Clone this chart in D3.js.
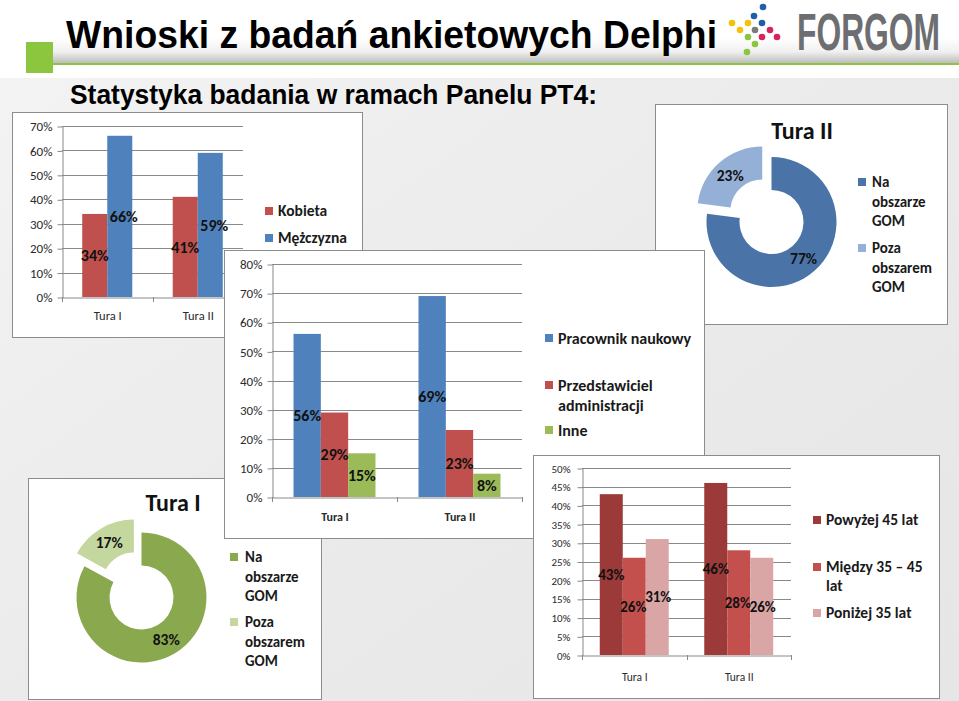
<!DOCTYPE html>
<html><head><meta charset="utf-8">
<script src="https://cdn.jsdelivr.net/npm/d3@7"></script>
<style>html,body{margin:0;padding:0;background:#fff;} svg{display:block}</style>
</head><body><svg id="c" width="959" height="701"></svg>
<script>
// ---------- DATA ----------
const categories = ["Tura I", "Tura II"];
const genderLegend = [["Kobieta"], ["Mężczyzna"]];
const genderValues = [[34, 41], [66, 59]];
const roleLegend = [["Pracownik naukowy"], ["Przedstawiciel", "administracji"], ["Inne"]];
const roleValues = [[56, 69], [29, 23], [15, 8]];
const ageLegend = [["Powyżej 45 lat"], ["Między 35 – 45", "lat"], ["Poniżej 35 lat"]];
const ageValues = [[43, 46], [26, 28], [31, 26]];
const regionLegend = [["Na", "obszarze", "GOM"], ["Poza", "obszarem", "GOM"]];
const regionTura1 = [83, 17];
const regionTura2 = [77, 23];
const genderTicks = [0, 10, 20, 30, 40, 50, 60, 70];
const roleTicks = [0, 10, 20, 30, 40, 50, 60, 70, 80];
const ageTicks = [0, 5, 10, 15, 20, 25, 30, 35, 40, 45, 50];
const titleText = "Wnioski z badań ankietowych Delphi";
const subtitleText = "Statystyka badania w ramach Panelu PT4:";
const logoText = "FORGOM";
const donutTitles = ["Tura I", "Tura II"];

// ---------- STYLE ----------
const F = "Carlito, Calibri, Lato, 'Open Sans', sans-serif";
const NARROW = "'Liberation Sans Narrow', 'Arial Narrow', 'Liberation Sans', Arial, sans-serif";
const AX = "#898989";
const svg = d3.select("#c");

const defs = svg.append("defs");
const bg = defs.append("linearGradient").attr("id", "bg").attr("x1", 0).attr("y1", 0).attr("x2", 1).attr("y2", 1);
bg.append("stop").attr("offset", "0").attr("stop-color", "#f4f4f4");
bg.append("stop").attr("offset", "0.5").attr("stop-color", "#ebebeb");
bg.append("stop").attr("offset", "1").attr("stop-color", "#e6e6e6");
const band = defs.append("linearGradient").attr("id", "band").attr("x1", 0).attr("y1", 0).attr("x2", 0).attr("y2", 1);
band.append("stop").attr("offset", "0").attr("stop-color", "#ffffff");
band.append("stop").attr("offset", "0.55").attr("stop-color", "#f0f0f0");
band.append("stop").attr("offset", "1").attr("stop-color", "#bdbdbd");

svg.append("rect").attr("width", 959).attr("height", 701).attr("fill", "url(#bg)");
svg.append("rect").attr("width", 959).attr("height", 78).attr("fill", "#ffffff");

// header
svg.append("rect").attr("x", 53).attr("y", 38).attr("width", 906).attr("height", 25).attr("fill", "url(#band)");
svg.append("rect").attr("x", 53).attr("y", 63).attr("width", 906).attr("height", 2).attr("fill", "#8cc63f");
svg.append("rect").attr("x", 26).attr("y", 42).attr("width", 27).attr("height", 31).attr("fill", "#8cc63f");
svg.append("text").attr("x", 66).attr("y", 48).attr("font-family", NARROW).attr("font-weight", "bold")
  .attr("font-size", 38).attr("textLength", 651).attr("lengthAdjust", "spacingAndGlyphs").attr("fill", "#000").text(titleText);
svg.append("text").attr("x", 70).attr("y", 104).attr("font-family", NARROW).attr("font-weight", "bold")
  .attr("font-size", 27).attr("textLength", 527).attr("lengthAdjust", "spacingAndGlyphs").attr("fill", "#000").text(subtitleText);

// logo
const logoDots = [
  [763, 7, "#1f5fa8"], [754, 16, "#1f5fa8"], [762, 23, "#1f5fa8"],
  [732, 23, "#f4c20d"], [748, 23, "#f4c20d"], [740, 30, "#f4c20d"],
  [755, 30, "#7a7a7a"], [770, 30, "#d6245c"], [748, 37, "#8cc63f"],
  [762, 37, "#d6245c"], [777, 37, "#d6245c"], [755, 44, "#8cc63f"], [747, 52, "#8cc63f"]
];
svg.append("g").selectAll("circle").data(logoDots).join("circle")
  .attr("cx", d => d[0]).attr("cy", d => d[1]).attr("r", 3.3).attr("fill", d => d[2]);
svg.append("g").attr("transform", "translate(797,50) scale(1,1.62)")
  .append("text").attr("x", 0).attr("y", 0).attr("font-family", NARROW).attr("font-weight", "bold")
  .attr("font-size", 32).attr("textLength", 143).attr("lengthAdjust", "spacingAndGlyphs").attr("fill", "#6d6e71").text(logoText);

function box(x0, y0, x1, y1) {
  svg.append("rect").attr("x", x0 + 0.5).attr("y", y0 + 0.5).attr("width", x1 - x0).attr("height", y1 - y0)
    .attr("fill", "#fff").attr("stroke", "#8c8c8c").attr("stroke-width", 1);
}

function legend(g, items, colors, o) {
  items.forEach((lines, i) => {
    const cy = o.ys[i];
    g.append("rect").attr("x", o.sx).attr("y", cy - 4).attr("width", 8).attr("height", 8).attr("fill", colors[i]);
    const t = g.append("text").attr("font-family", F).attr("font-weight", o.weight || "bold")
      .attr("font-size", o.size).attr("fill", "#1a1a1a");
    lines.forEach((ln, j) => {
      t.append("tspan").attr("x", o.tx).attr("y", cy + j * o.lh).attr("dy", "0.35em").text(ln);
    });
  });
}

function barChart(c) {
  box(...c.box);
  const g = svg.append("g");
  const y = d3.scaleLinear().domain([0, d3.max(c.ticks)]).range([c.y0, c.yTop]);
  const x = d3.scaleBand().domain(categories).range([c.x0, c.x1]);
  const bw = x.bandwidth();
  const inner = d3.scaleBand().domain(d3.range(c.values.length))
    .range([bw * (1 - c.frac) / 2, bw * (1 + c.frac) / 2]);
  // grid
  g.selectAll("line.grid").data(c.ticks.filter(t => t > 0)).join("line")
    .attr("x1", c.x0).attr("x2", c.x1).attr("y1", d => Math.round(y(d)) + 0.5).attr("y2", d => Math.round(y(d)) + 0.5)
    .attr("stroke", AX).attr("stroke-width", 1);
  // y axis
  const ya = g.append("g").attr("transform", `translate(${c.x0 + 0.5},0.5)`)
    .call(d3.axisLeft(y).tickValues(c.ticks).tickSize(5).tickSizeOuter(0).tickPadding(c.tp).tickFormat(d => d + "%"));
  ya.selectAll("path,line").attr("stroke", AX);
  ya.selectAll("text").attr("font-family", F).attr("font-size", c.tickSize).attr("fill", "#2a2a2a");
  // x axis
  const xa = g.append("g").attr("transform", `translate(0.5,${Math.round(c.y0) + 0.5})`)
    .call(d3.axisBottom(x).tickSize(0).tickSizeOuter(0).tickPadding(c.cp));
  xa.selectAll("path").attr("stroke", AX);
  xa.selectAll("text").attr("font-family", F).attr("font-size", c.catSize).attr("font-weight", c.catWeight || "normal").attr("fill", "#2a2a2a");
  const bounds = categories.map(k => x(k)).concat([x(categories[categories.length - 1]) + bw]);
  g.selectAll("line.xt").data(bounds).join("line")
    .attr("x1", d => Math.round(d) + 0.5).attr("x2", d => Math.round(d) + 0.5)
    .attr("y1", c.y0).attr("y2", c.y0 + 5).attr("stroke", AX);
  // bars
  c.values.forEach((vals, s) => {
    g.selectAll(null).data(vals).join("rect")
      .attr("x", (d, i) => x(categories[i]) + inner(s))
      .attr("width", inner.bandwidth())
      .attr("y", d => y(d)).attr("height", d => y(0) - y(d))
      .attr("fill", c.colors[s]);
  });
  c.values.forEach((vals, s) => {
    g.selectAll(null).data(vals).join("text")
      .attr("x", (d, i) => x(categories[i]) + inner(s) + inner.bandwidth() / 2 + (c.dx ? c.dx[s] : 0))
      .attr("y", d => (y(d) + y(0)) / 2).attr("dy", "0.35em")
      .attr("text-anchor", "middle").attr("font-family", F).attr("font-weight", "bold")
      .attr("font-size", c.labelSize).attr("fill", "#111").text(d => d + "%");
  });
  legend(g, c.legend, c.colors, c.lg);
}

function donut(c) {
  box(...c.box);
  const g = svg.append("g").attr("transform", `translate(${c.cx},${c.cy})`);
  const pie = d3.pie().sort(null).startAngle(0).endAngle(2 * Math.PI);
  const arc = d3.arc().innerRadius(c.ri).outerRadius(c.ro);
  const arcs = pie(c.values);
  arcs.forEach((a, i) => {
    const mid = (a.startAngle + a.endAngle) / 2;
    const ex = i === 1 ? c.explode : 0;
    const ox = Math.sin(mid) * ex, oy = -Math.cos(mid) * ex;
    const sg = g.append("g").attr("transform", `translate(${ox},${oy})`);
    sg.append("path").attr("d", arc(a)).attr("fill", c.colors[i]);
    const [lx, ly] = arc.centroid(a);
    sg.append("text").attr("x", lx).attr("y", ly).attr("dy", "0.35em").attr("text-anchor", "middle")
      .attr("font-family", F).attr("font-weight", "bold").attr("font-size", c.labelSize).attr("fill", "#111")
      .text(c.values[i] + "%");
  });
  svg.append("text").attr("x", c.tx).attr("y", c.ty).attr("dy", "0.35em").attr("text-anchor", "middle")
    .attr("font-family", F).attr("font-weight", "bold").attr("font-size", 24).attr("fill", "#111").text(c.title);
  legend(svg.append("g"), regionLegend, c.colors, c.lg);
}

// 1. gender chart (top-left)
barChart({
  box: [12, 112, 362, 337], x0: 62, x1: 243, y0: 297, yTop: 126, ticks: genderTicks,
  values: genderValues, colors: ["#c0504d", "#4f81bd"], frac: 0.553, tp: 5, tickSize: 13,
  cp: 14, catSize: 12.5, labelSize: 16, dx: [0, 4],
  legend: genderLegend, lg: { sx: 265, tx: 278, ys: [211, 238], lh: 19, size: 15.5 }
});
// 2. Tura II donut (top-right)
donut({
  box: [655, 104, 947, 324], cx: 771.5, cy: 222, ro: 65, ri: 32, explode: 14,
  values: regionTura2, colors: ["#4a74a7", "#95b0d6"], labelSize: 15.5,
  title: donutTitles[1], tx: 802, ty: 131,
  lg: { sx: 858, tx: 872, ys: [182, 248], lh: 19.5, size: 15 }
});
// 3. Tura I donut (bottom-left)
donut({
  box: [28, 478, 321, 699], cx: 141.5, cy: 597.5, ro: 65, ri: 32, explode: 15,
  values: regionTura1, colors: ["#8aa84e", "#c4d79e"], labelSize: 15.5,
  title: donutTitles[0], tx: 173, ty: 503,
  lg: { sx: 230, tx: 245, ys: [557, 622], lh: 19.5, size: 15 }
});
// 4. role chart (middle)
barChart({
  box: [224, 250, 704, 538], x0: 272, x1: 522, y0: 497, yTop: 264, ticks: roleTicks,
  values: roleValues, colors: ["#4f81bd", "#c0504d", "#9bbb59"], frac: 0.656, tp: 5, tickSize: 13,
  cp: 15, catSize: 12, catWeight: "bold", labelSize: 16,
  legend: roleLegend, lg: { sx: 545, tx: 558, ys: [338, 385, 430], lh: 20, size: 16 }
});
// 5. age chart (bottom-right)
barChart({
  box: [533, 455, 939, 698], x0: 582, x1: 791, y0: 655, yTop: 468, ticks: ageTicks,
  values: ageValues, colors: ["#9b3a38", "#c4504e", "#daa6a5"], frac: 0.66, tp: 7, tickSize: 11,
  cp: 17, catSize: 11.5, labelSize: 15, dx: [0, -1, 1],
  legend: ageLegend, lg: { sx: 813, tx: 826, ys: [520, 567, 613], lh: 19, size: 15.5 }
});
</script></body></html>
